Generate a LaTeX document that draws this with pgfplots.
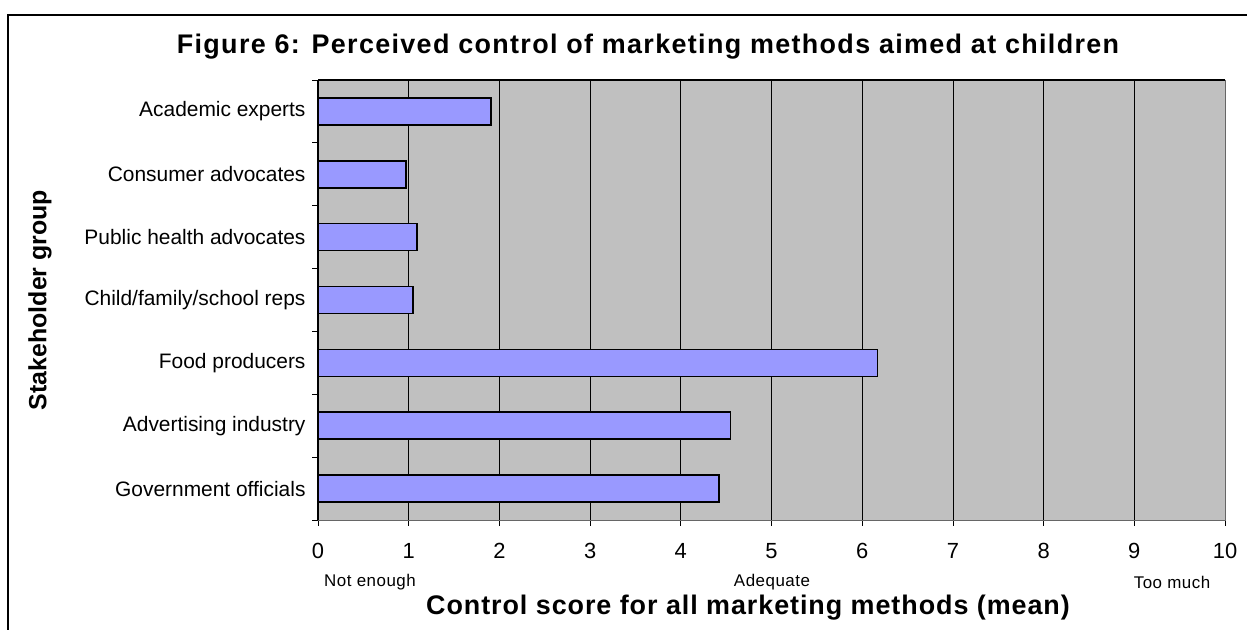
\documentclass[border=0pt]{standalone}
\usepackage{pgfplots}
\pgfplotsset{compat=1.18}
\usepackage{fontspec}
\setmainfont{Liberation Sans}
\definecolor{plotbg}{HTML}{C0C0C0}
\definecolor{barfill}{HTML}{9999FF}
\begin{document}
\begin{tikzpicture}[x=1bp,y=1bp]
\path[use as bounding box] (0,0) rectangle (1247,630);
\draw[black, line width=1.2bp] (8,0) -- (8,615) -- (1247,615);
\begin{axis}[
  at={(318bp,110bp)}, anchor=south west,
  scale only axis, width=907bp, height=440bp,
  xbar, bar width=27bp, bar shift=0pt,
  xmin=0, xmax=10, ymin=-0.5, ymax=6.5,
  y dir=reverse,
  axis background/.style={fill=plotbg},
  axis line style={draw=gray!80!black},
  xtick={0,...,10}, ytick={0,...,6},
  yticklabels={Academic experts,Consumer advocates,Public health advocates,Child/family/school reps,Food producers,Advertising industry,Government officials},
  minor ytick={-0.5,0.5,...,6.5},
  xtick pos=bottom, ytick pos=left,
  tick align=outside,
  major tick length=6bp, minor tick length=6bp,
  ytick style={draw=none},
  minor y tick style={draw=black, line width=0.8bp},
  x tick style={draw=black, line width=0.8bp},
  xmajorgrids, major grid style={draw=black, line width=0.8bp},
  /pgf/number format/assume math mode=true,
  yticklabel style={font=\fontsize{21}{24}\selectfont, xshift=-3bp},
  xticklabel style={font=\fontsize{22}{24}\selectfont, yshift=-14bp},
  clip=false,
]
\addplot[fill=barfill, draw=black, line width=1.5bp] coordinates {
(1.91,0) (0.97,1) (1.09,2) (1.05,3) (6.17,4) (4.55,5) (4.42,6)};
\draw[black, line width=1.2bp] (rel axis cs:0,0) -- (rel axis cs:0,1);
\draw[black, line width=1.2bp] (rel axis cs:0,1) -- (rel axis cs:1,1);
\end{axis}
\node[font=\fontsize{27}{30}\selectfont\bfseries\addfontfeatures{LetterSpace=5}] at (648,583) {Figure 6: Perceived control of marketing methods aimed at children};
\node[font=\fontsize{25}{28}\selectfont\bfseries, rotate=90] at (40,330) {Stakeholder group};
\node[font=\fontsize{27}{28}\selectfont\bfseries\addfontfeatures{LetterSpace=3.5}] at (748,22) {Control score for all marketing methods (mean)};
\node[font=\fontsize{17}{19}\selectfont\addfontfeatures{LetterSpace=3}] at (370,48) {Not enough};
\node[font=\fontsize{17}{19}\selectfont\addfontfeatures{LetterSpace=3}] at (772,48) {Adequate};
\node[font=\fontsize{17}{19}\selectfont\addfontfeatures{LetterSpace=3}] at (1172,48) {Too much};
\end{tikzpicture}
\end{document}
